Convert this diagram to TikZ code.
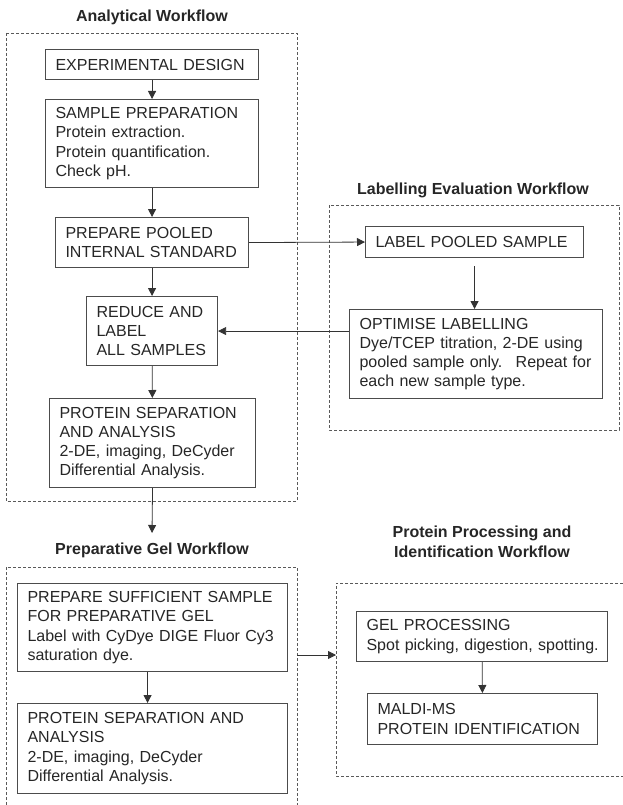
\documentclass[tikz,border=0pt]{standalone}
\usepackage{fontspec}
\setmainfont{Liberation Sans}
\usepackage{xcolor}
\usepackage{tikz}
\usetikzlibrary{arrows.meta, positioning}

\begin{document}
\begin{tikzpicture}[x=1pt, y=-1pt,
    every node/.style={font=\fontsize{16}{19.3}\selectfont, text=black!85},
    box/.style={draw=black!70, line width=1.1pt, anchor=north west, align=left,
      inner xsep=10pt, inner ysep=2pt},
    title/.style={font=\fontsize{16}{20}\selectfont\bfseries, align=center},
    group/.style={draw=black!65, line width=0.8pt, dash pattern=on 3pt off 2pt},
    arr/.style={-{Triangle[length=8pt, width=8pt]}, line width=0.8pt, draw=black!80}]
  \useasboundingbox (0,0) rectangle (623,805);

  % workflow frames
  \draw[group] (6,33) rectangle (297,501);
  \draw[group] (329,205) rectangle (619,430);
  \draw[group] (6,805) |- (297,567) -- (297,805);
  \draw[group] (623,583) -| (336,776) -- (623,776);

  \node[title] (anaTtl) at (152,17) {Analytical Workflow};
  \node[title] (labTtl) at (473,190) {Labelling Evaluation Workflow};
  \node[title] (prepTtl) at (152,550) {Preparative Gel Workflow};
  \node[title] (procTtl) at (482,542) {Protein Processing and\\Identification Workflow};

  % analytical workflow
  \node[box, text width=193pt, minimum height=30pt] (design) at (45,49) {EXPERIMENTAL DESIGN};
  \node[box, text width=193pt, minimum height=88pt] (prep) at (45,99)
    {SAMPLE PREPARATION\\Protein extraction.\\Protein quantification.\\Check pH.};
  \node[box, text width=173pt, minimum height=50pt] (pool) at (55,217)
    {PREPARE POOLED\\INTERNAL STANDARD};
  \node[box, text width=111pt, minimum height=69pt] (reduce) at (86,296)
    {REDUCE AND\\LABEL\\ALL SAMPLES};
  \node[box, text width=186pt, minimum height=89pt] (sepA) at (49,398)
    {PROTEIN SEPARATION\\AND ANALYSIS\\2-DE, imaging, DeCyder\\Differential Analysis.};

  % labelling evaluation
  \node[box, text width=198pt, minimum height=31pt] (labpool) at (365,226) {LABEL POOLED SAMPLE};
  \node[box, text width=233pt, minimum height=89pt] (optim) at (349,309)
    {OPTIMISE LABELLING\\Dye/TCEP titration, 2-DE using\\pooled sample only.~ Repeat for\\each new sample type.};

  % preparative gel
  \node[box, text width=250pt, minimum height=88pt] (suff) at (17,583)
    {PREPARE SUFFICIENT SAMPLE\\FOR PREPARATIVE GEL\\Label with CyDye DIGE Fluor Cy3\\saturation dye.};
  \node[box, text width=250pt, minimum height=90pt] (sepB) at (17,703)
    {PROTEIN SEPARATION AND\\ANALYSIS\\2-DE, imaging, DeCyder\\Differential Analysis.};

  % protein processing
  \node[box, text width=231pt, minimum height=50pt] (gel) at (356,611)
    {GEL PROCESSING\\\mbox{Spot picking, digestion, spotting.}};
  \node[box, text width=210pt, minimum height=51pt] (maldi) at (367,693)
    {MALDI-MS\\PROTEIN IDENTIFICATION};

  \coordinate (prepIn) at (152,533);
  \coordinate (prepOut) at (297,655);
  \coordinate (procIn) at (336,655);

  \draw[arr] (design) -- (prep);
  \draw[arr] (prep) -- (pool);
  \draw[arr] (pool) -- (reduce);
  \draw[arr] (reduce) -- (sepA);
  \draw[arr] (sepA.south) -- (prepIn);
  \draw[arr] (pool.east) -- (labpool.west);
  \draw[arr, shorten <=8pt] (labpool.south) -- (labpool.south |- optim.north);
  \draw[arr] (optim.west |- reduce.east) -- (reduce.east);
  \draw[arr] ([xshift=-5pt]suff.south) -- ([xshift=-5pt]suff.south |- sepB.north);
  \draw[arr] (prepOut) -- (procIn);
  \draw[arr] (gel) -- (maldi);
\end{tikzpicture}
\end{document}
